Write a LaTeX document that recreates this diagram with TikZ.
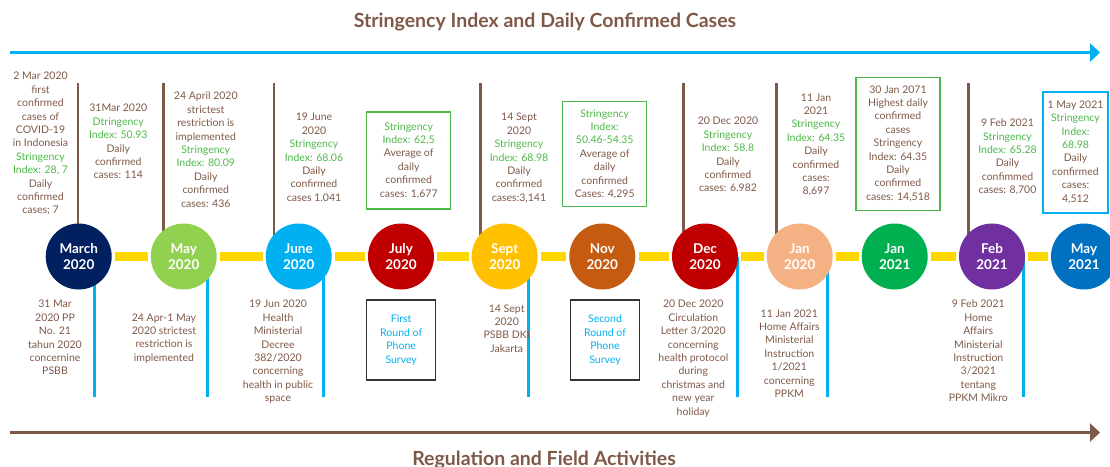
\documentclass[tikz,border=0pt]{standalone}
\usepackage{fontspec}
\setmainfont{Lato}
\usetikzlibrary{positioning}
\usetikzlibrary{backgrounds}
\usetikzlibrary{arrows.meta}

\definecolor{brn}{HTML}{7F5948}
\definecolor{sgreen}{HTML}{4DB848}
\definecolor{sky}{HTML}{00B0F0}
\definecolor{gold}{HTML}{FFD700}
\definecolor{navy}{HTML}{002060}
\definecolor{lime}{HTML}{92D050}
\definecolor{crim}{HTML}{C00000}
\definecolor{amber}{HTML}{FFC000}
\definecolor{rust}{HTML}{C55A11}
\definecolor{peach}{HTML}{F4B183}
\definecolor{leaf}{HTML}{00B050}
\definecolor{plum}{HTML}{7030A0}
\definecolor{royal}{HTML}{0070C0}

\newcommand{\sgr}[1]{\textcolor{sgreen}{#1}}

\begin{document}
\begin{tikzpicture}[x=1pt,y=-1pt,
  month/.style={circle,minimum size=66pt,inner sep=0pt,text=white,align=center,
    font=\fontsize{13.5}{16}\selectfont\bfseries},
  note/.style={anchor=north,align=center,text=brn,inner sep=0pt,
    font=\fontsize{10.5}{13.4}\selectfont},
  gbox/.style={note,anchor=center,draw=sgreen,line width=1.2pt,minimum width=84pt},
  bbox/.style={note,anchor=center,draw=sky,line width=1.6pt},
  kbox/.style={note,anchor=center,draw=black!80,line width=1.2pt,text=sky,
    minimum width=69pt,minimum height=80pt},
  link/.style={gold,line width=9pt,shorten <=3pt,shorten >=3pt},
  upline/.style={brn,line width=2.5pt},
  downline/.style={sky,line width=2.5pt},
  heading/.style={text=brn,font=\fontsize{19.5}{23}\selectfont\bfseries}]
\useasboundingbox (0,0) rectangle (1110,466);

% headings and the two time axes
\node[heading] (top-title) at (545,22) {Stringency Index and Daily Confirmed Cases};
\node[heading,anchor=base] (bot-title) at (544,465) {Regulation and Field Activities};
\coordinate (top-l) at (10,52.5);
\coordinate (top-r) at (1100,52.5);
\coordinate (bot-l) at (10,432.5);
\coordinate (bot-r) at (1100,432.5);
\draw[sky,line width=3pt,-{Triangle[length=10pt,width=18pt]}] (top-l) -- (top-r);
\draw[brn,line width=3pt,-{Triangle[length=10pt,width=18pt]}] (bot-l) -- (bot-r);

% months
\node[month,fill=navy]  (mar)  at (78.7,256.5)  {March\\2020};
\node[month,fill=lime]  (may)  at (183.7,256.5) {May\\2020};
\node[month,fill=sky]   (jun)  at (298.7,256.5) {June\\2020};
\node[month,fill=crim]  (jul)  at (401,256.5)   {July\\2020};
\node[month,fill=amber] (sep)  at (504.7,256.5) {Sept\\2020};
\node[month,fill=rust]  (nov)  at (602.3,256.5) {Nov\\2020};
\node[month,fill=crim]  (dec)  at (705,256.5)   {Dec\\2020};
\node[month,fill=peach] (jan)  at (799.7,256.5) {Jan\\2020};
\node[month,fill=leaf]  (janb) at (894.7,256.5) {Jan\\2021};
\node[month,fill=plum]  (feb)  at (992,256.5)   {Feb\\2021};
\node[month,fill=royal] (mayb) at (1084,256.5)  {May\\2021};

% stringency index and cases (above)
\node[note] (mar-up) at (40.5,72) {2 Mar 2020\\first\\confirmed\\cases of\\COVID-19\\in Indonesia\\\sgr{Stringency}\\\sgr{Index: 28, 7}\\Daily\\confirmed\\cases; 7};
\node[note] (may-up) at (118.3,104) {31Mar 2020\\\sgr{Dtringency}\\\sgr{Index: 50.93}\\Daily\\confirmed\\cases: 114};
\node[note] (apr-up) at (205.8,92) {24 April 2020\\strictest\\restriction is\\implemented\\\sgr{Stringency}\\\sgr{Index: 80.09}\\Daily\\confirmed\\cases: 436};
\node[note] (jun-up) at (314,113) {19 June\\2020\\\sgr{Stringency}\\\sgr{Index: 68.06}\\Daily\\confirmed\\cases 1.041};
\node[gbox,minimum height=97pt] (jul-up) at (408.7,160.4) {\sgr{Stringency}\\\sgr{Index: 62,5}\\Average of\\daily\\confirmed\\cases: 1,677};
\node[note] (sep-up) at (519,113) {14 Sept\\2020\\\sgr{Stringency}\\\sgr{Index: 68.98}\\Daily\\confirmed\\cases:3,141};
\node[gbox,minimum height=105pt] (nov-up) at (604.7,154.2) {\sgr{Stringency}\\\sgr{Index:}\\\sgr{50.46-54.35}\\Average of\\daily\\confirmed\\Cases: 4,295};
\node[note] (dec-up) at (728,117) {20 Dec 2020\\\sgr{Stringency}\\\sgr{Index: 58.8}\\Daily\\confirmed\\cases: 6.982};
\node[note] (jan-up) at (816,93.3) {11 Jan\\2021\\\sgr{Stringency}\\\sgr{Index: 64.35}\\Daily\\confirmed\\cases:\\8,697};
\node[gbox,minimum height=133pt] (janb-up) at (898,143.7) {30 Jan 2071\\Highest daily\\confirmed\\cases\\Stringency\\Index: 64.35\\Daily\\confirmed\\cases: 14,518};
\node[note] (feb-up) at (1007.5,118.7) {9 Feb 2021\\\sgr{Stringency}\\\sgr{Index: 65.28}\\Daily\\confimmed\\cases: 8,700};
\node[bbox,minimum width=65pt,minimum height=121pt] (mayb-up) at (1075.5,152.2) {1 May 2021\\\sgr{Stringency}\\\sgr{Index:}\\\sgr{68.98}\\Daily\\confirmed\\cases:\\4,512};

% regulations and surveys (below)
\node[note] (mar-dn) at (55,300) {31 Mar\\2020 PP\\No. 21\\tahun 2020\\concernine\\PSBB};
\node[note] (may-dn) at (164,313.3) {24 Apr-1 May\\2020 strictest\\restriction is\\implemented};
\node[note] (jun-dn) at (278,300) {19 Jun 2020\\Health\\Ministerial\\Decree\\382/2020\\concerning\\health in public\\space};
\node[kbox] (jul-dn) at (401.2,340) {First\\Round of\\Phone\\Survey};
\node[note] (sep-dn) at (506.7,304.3) {14 Sept\\2020\\PSBB DKI\\Jakarta};
\node[kbox] (nov-dn) at (605,340) {Second\\Round of\\Phone\\Survey};
\node[note] (dec-dn) at (693.3,300) {20 Dec 2020\\Circulation\\Letter 3/2020\\concerning\\health protocol\\during\\christmas and\\new year\\holiday};
\node[note] (jan-dn) at (789.3,309.3) {11 Jan 2021\\Home Affairs\\Ministerial\\Instruction\\1/2021\\concerning\\PPKM};
\node[note] (feb-dn) at (978.3,300) {9 Feb 2021\\Home\\Affairs\\Ministerial\\Instruction\\3/2021\\tentang\\PPKM Mikro};

\begin{scope}[on background layer]
% yellow timeline between the months
\foreach \a/\b in {mar/may,may/jun,jun/jul,jul/sep,sep/nov,nov/dec,dec/jan,jan/janb,janb/feb,feb/mayb}
  \draw[link] (\a) -- (\b);
% brown ticks up, blue ticks down
\foreach \m/\x in {mar/78,may/163.3,jun/273.8,sep/480.4,dec/683.3,jan/776.7,feb/968.6}{
  \coordinate (up-\m) at (\x,83);
  \draw[upline] (up-\m) -- (up-\m |- \m);
}
\foreach \m/\x in {mar/94.3,may/207.7,jun/323.3,sep/528.7,dec/737.7,jan/827.7,feb/1023.3}{
  \coordinate (dn-\m) at (\x,397);
  \draw[downline] (dn-\m) -- (dn-\m |- \m);
}
\end{scope}
\end{tikzpicture}
\end{document}
